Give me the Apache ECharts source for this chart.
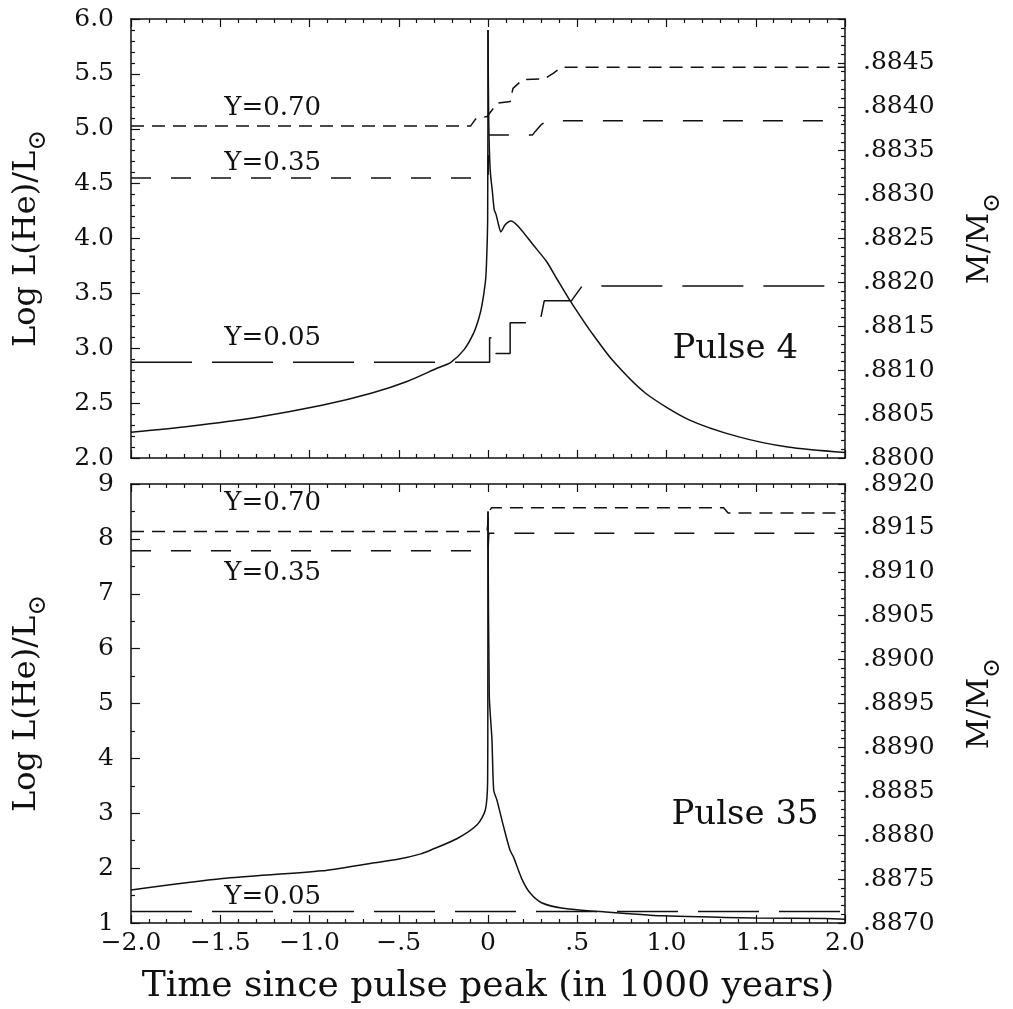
<!DOCTYPE html>
<html>
<head>
<meta charset="utf-8">
<script src="https://cdn.jsdelivr.net/npm/echarts@6/dist/echarts.min.js"></script>
<style>
html,body{margin:0;padding:0;background:#fff;}
#c{width:1013px;height:1009px;}
</style>
</head>
<body>
<div id="c"></div>
<script>
// ---------- DATA ----------
// Pulse 4: log L(He)/Lsun vs time (1000 yr), rise to the peak and decay after it
const p4Rise = [
  [-2.0,2.235],[-1.67,2.29],[-1.30,2.37],[-0.93,2.48],[-0.655,2.59],[-0.45,2.70],
  [-0.283,2.82],[-0.21,2.87],[-0.135,2.985],[-0.08,3.14],[-0.05,3.28],[-0.033,3.40],
  [-0.015,3.60],[-0.009,3.75],[-0.002,4.17],[0.0,5.90]
];
const p4Decay = [
  [0.0,5.90],[0.004,5.08],[0.012,4.63],
  [0.025,4.42],[0.035,4.26],[0.045,4.22],[0.06,4.12],[0.072,4.06],[0.096,4.125],
  [0.128,4.16],[0.17,4.11],[0.254,3.94],[0.328,3.79],[0.383,3.64],[0.457,3.44],
  [0.526,3.27],[0.568,3.17],[0.698,2.89],[0.883,2.59],[1.124,2.35],[1.40,2.195],
  [1.68,2.10],[2.0,2.05]
];
// Pulse 4: mass coordinate of helium-abundance contours (Msun)
const p4Y070 = [
  [-2,0.88378],[-0.098,0.88378],[-0.07,0.88386],[-0.005,0.88389],[0.022,0.88396],
  [0.05,0.88404],[0.125,0.88406],[0.13,0.88412],[0.14,0.88421],[0.194,0.88431],
  [0.318,0.88432],[0.365,0.88438],[0.411,0.88445],[2.0,0.88445]
];
const p4Y035 = [
  [-2,0.88319],[0.0,0.88319],[0.005,0.88368],[0.25,0.88368],[0.265,0.88372],
  [0.275,0.88370],[0.30,0.88380],[0.33,0.88384],[2.0,0.88384]
];
const p4Y005 = [
  [-2,0.88109],[0.009,0.88109],[0.009,0.88137],[0.044,0.88137],[0.044,0.88119],
  [0.124,0.88119],[0.124,0.88154],[0.29,0.88154],[0.315,0.88179],[0.467,0.88179],
  [0.528,0.88196],[2.0,0.88196]
];
// Pulse 35
const p35Rise = [
  [-2.0,1.60],[-1.487,1.81],[-0.93,1.95],[-0.654,2.09],[-0.506,2.16],[-0.376,2.26],
  [-0.32,2.33],[-0.172,2.54],[-0.061,2.79],[-0.015,3.06],[-0.002,3.60],[-0.001,4.8],
  [0.0,8.5]
];
const p35Decay = [
  [0.0,8.5],[0.007,5.15],[0.022,4.35],[0.032,3.42],[0.05,3.24],[0.087,2.76],
  [0.123,2.33],[0.143,2.20],[0.19,1.80],[0.235,1.55],[0.30,1.37],[0.42,1.27],
  [0.66,1.20],[0.976,1.13],[1.5,1.09],[1.89,1.08],[2.0,1.07]
];
const p35Y070 = [
  [-2,0.89146],[-0.005,0.89146],[0.005,0.89168],[0.02,0.89173],[1.32,0.89173],
  [1.345,0.89167],[2.0,0.89167]
];
const p35Y035 = [[-2,0.89124],[0.0,0.89124],[0.005,0.89144],[2.0,0.89144]];
const p35Y005 = [[-2,0.88713],[2.0,0.88713]];

// annotation texts (x, logL, text)
const p4Notes = [[-1.206,5.19,'Y=0.70'],[-1.206,4.69,'Y=0.35'],[-1.206,3.095,'Y=0.05'],[1.385,2.99,'Pulse 4']];
const p35Notes = [[-1.206,8.65,'Y=0.70'],[-1.206,7.38,'Y=0.35'],[-1.206,1.47,'Y=0.05'],[1.44,2.96,'Pulse 35']];

// tick labels
const xTickValues = [-2,-1.5,-1,-0.5,0,0.5,1,1.5,2];
const xTickLabels = ['\u22122.0','\u22121.5','\u22121.0','\u2212.5','0','.5','1.0','1.5','2.0'];

// ---------- STYLE ----------
const INK = '#111';
const FONT = 'DejaVu Serif';
const LBL = 25;

function xLabel(v){
  for (let i=0;i<xTickValues.length;i++) if (Math.abs(v-xTickValues[i])<1e-6) return xTickLabels[i];
  return '';
}
function massLabel(v){ return v.toFixed(4).replace(/^0/,''); }

function axLine(){ return {show:true, onZero:false, lineStyle:{color:INK,width:1.5}}; }
function xAx(grid, pos, showLabels, name){
  return {
    type:'value', gridIndex:grid, position:pos, min:-2, max:2, interval:0.5,
    axisLine:axLine(), splitLine:{show:false},
    axisTick:{show:true,inside:true,length:8,lineStyle:{color:INK,width:1.2}},
    minorTick:{show:true,splitNumber:5,length:4,lineStyle:{color:INK,width:1.2}},
    axisLabel:{show:showLabels,formatter:xLabel,color:INK,fontFamily:FONT,fontSize:LBL,margin:8},
    name:name||'', nameLocation:'middle', nameGap:46,
    nameTextStyle:{color:INK,fontFamily:FONT,fontSize:36}
  };
}
function yAx(grid,pos,min,max,interval,minorSplit,fmt,extra){
  return Object.assign({
    type:'value', gridIndex:grid, position:pos, min, max, interval,
    axisLine:axLine(), splitLine:{show:false},
    axisTick:{show:true,inside:true,length:(pos==='left'?9:7),lineStyle:{color:INK,width:1.2}},
    minorTick:{show:true,splitNumber:minorSplit,length:4,lineStyle:{color:INK,width:1.2}},
    axisLabel:{formatter:fmt,color:INK,fontFamily:FONT,fontSize:LBL,margin:(pos==='left'?17:18)}
  },extra||{});
}
function lumName(){ return {
  name:'{a|Log L(He)/L}{b|\u2299}', nameLocation:'middle', nameRotate:90, nameGap:80,
  nameTextStyle:{rich:{
    a:{fontFamily:FONT,fontSize:32,color:INK,verticalAlign:'top',lineHeight:40},
    b:{fontFamily:FONT,fontSize:25,color:INK,verticalAlign:'bottom',lineHeight:40}
  }}
};}
function massName(){ return {
  name:'{a|M/M}{b|\u2299}', nameLocation:'middle', nameRotate:90, nameGap:120,
  nameTextStyle:{rich:{
    a:{fontFamily:FONT,fontSize:30,color:INK,verticalAlign:'top',lineHeight:40},
    b:{fontFamily:FONT,fontSize:24,color:INK,verticalAlign:'bottom',lineHeight:40}
  }}
};}

function line(data,xi,yi,type,smooth){
  return {type:'line',data,xAxisIndex:xi,yAxisIndex:yi,showSymbol:false,symbol:'none',
    silent:true,animation:false,smooth:smooth||false,
    lineStyle:{color:INK,width:1.5,type:type||'solid'}};
}
function notes(data,xi,yi){
  return {type:'scatter',xAxisIndex:xi,yAxisIndex:yi,symbolSize:0,silent:true,animation:false,
    itemStyle:{opacity:1},
    data:data.map(d=>({value:d,label:{fontSize:d[2].indexOf('Pulse')===0?34:26}})),
    label:{show:true,position:'inside',formatter:p=>p.value[2],color:INK,fontFamily:FONT,
      textBorderWidth:0,opacity:1}};
}
const SHORT=[13,8], MED=[20,20], LONG=[61,20];

const option = {
  backgroundColor:'#fff',
  animation:false,
  grid:[
    {left:131,top:19,width:721,height:439},
    {left:131,top:484,width:721,height:439}
  ],
  xAxis:[
    xAx(0,'bottom',false),
    xAx(0,'top',false),
    xAx(1,'bottom',true,'Time since pulse peak (in 1000 years)'),
    xAx(1,'top',false)
  ],
  yAxis:[
    yAx(0,'left',2,6,0.5,5,v=>v.toFixed(1),lumName()),
    yAx(0,'right',0.88,0.885,0.0005,5,massLabel,massName()),
    yAx(1,'left',1,9,1,2,v=>String(Math.round(v)),lumName()),
    yAx(1,'right',0.887,0.892,0.0005,5,massLabel,massName())
  ],
  series:[
    line(p4Rise,0,0,'solid',0.25),
    line(p4Decay,0,0,'solid',0.25),
    line(p4Y070,0,1,SHORT),
    line(p4Y035,0,1,MED),
    line(p4Y005,0,1,LONG),
    notes(p4Notes,0,0),
    line(p35Rise,2,2,'solid',0.25),
    line(p35Decay,2,2,'solid',0.25),
    line(p35Y070,2,3,SHORT),
    line(p35Y035,2,3,MED),
    line(p35Y005,2,3,LONG),
    notes(p35Notes,2,2)
  ]
};
option.yAxis[1].axisLabel.showMaxLabel = false;

const chart = echarts.init(document.getElementById('c'),null,{renderer:'canvas'});
chart.setOption(option);
</script>
</body>
</html>
